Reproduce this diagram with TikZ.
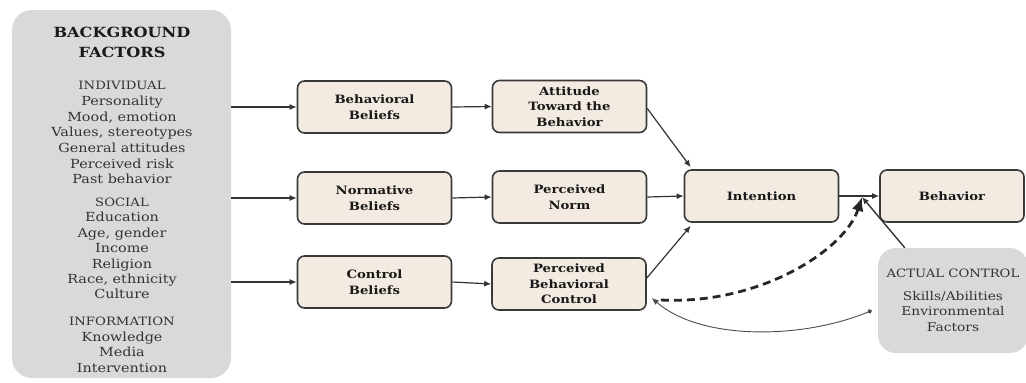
\documentclass[tikz,border=0pt]{standalone}
\usepackage{fontspec}
\setmainfont{DejaVu Serif}[FakeStretch=1.15]
\usetikzlibrary{arrows.meta}
\definecolor{beliefFill}{HTML}{F3EAE1}
\definecolor{panelGray}{HTML}{D9D9D9}
\definecolor{edgeGray}{HTML}{3A3A3A}
\tikzset{
  tpbbox/.style={draw=edgeGray, line width=1.6pt, fill=beliefFill, rounded corners=7pt,
    align=center, font=\fontsize{11.5}{15.5}\selectfont\bfseries, text=black!90,
    minimum width=154pt, minimum height=52pt, inner sep=2pt},
  panel/.style={fill=panelGray, inner sep=0pt},
  flow/.style={-{Latex[length=7pt,width=6pt]}, line width=1.2pt, draw=black!80},
  itemtext/.style={font=\fontsize{12.5}{15.5}\selectfont, text=black!80, inner sep=0pt, anchor=base},
  headtext/.style={font=\fontsize{11.5}{15.5}\selectfont, text=black!80, inner sep=0pt, anchor=base},
}
\begin{document}
\begin{tikzpicture}[x=1pt,y=-1pt]
\useasboundingbox (0,0) rectangle (1026,383);
% left panel
\node[panel, rounded corners=20pt, minimum width=219pt, minimum height=368pt] (bg) at (121.5,194) {};
\node[align=center, inner sep=0pt, font=\fontsize{14}{20}\selectfont\bfseries, text=black!90] (title) at (122,42) {BACKGROUND\\FACTORS};
\node[headtext] (hind) at (122,89) {INDIVIDUAL};
\node[headtext] (hsoc) at (122,206) {SOCIAL};
\node[headtext] (hinf) at (122,325) {INFORMATION};
\foreach \txt/\yy [count=\i] in {Personality/105.5, {Mood, emotion}/121.5, {Values, stereotypes}/136.5,
    General attitudes/152.5, Perceived risk/168, Past behavior/183.5,
    Education/221.5, {Age, gender}/237, Income/252.5, Religion/268, {Race, ethnicity}/283.5, Culture/298.5,
    Knowledge/341.5, Media/356.5, Intervention/372}
  \node[itemtext, name=bgitem\i] at (122,\yy) {\txt};

% belief boxes
\node[tpbbox] (bb) at (374.5,107) {Behavioral\\Beliefs};
\node[tpbbox] (nb) at (374.5,198) {Normative\\Beliefs};
\node[tpbbox] (cb) at (374.5,282) {Control\\Beliefs};
\node[tpbbox] (att) at (569.5,106.5) {Attitude\\Toward the\\Behavior};
\node[tpbbox] (pn) at (569.5,197) {Perceived\\Norm};
\node[tpbbox] (pbc) at (569,284) {Perceived\\Behavioral\\Control};
\node[tpbbox] (int) at (761.5,196) {Intention};
\node[tpbbox, minimum width=144pt] (beh) at (952,196) {Behavior};

% actual control
\node[panel, rounded corners=18pt, minimum width=150pt, minimum height=105pt, align=center,
  font=\fontsize{12}{15.5}\selectfont, text=black!80] (ac) at (953,300.5)
  {{\fontsize{11.5}{15.5}\selectfont ACTUAL CONTROL}\\[7pt]Skills/Abilities\\Environmental\\Factors};
\coordinate (meet) at (862,197);

% arrows
\draw[flow] (bg.east |- bb.west) -- (bb.west);
\draw[flow] (bg.east |- nb.west) -- (nb.west);
\draw[flow] (bg.east |- cb.west) -- (cb.west);
\draw[flow] (bb.east) -- (att.west);
\draw[flow] (nb.east) -- (pn.west);
\draw[flow] (cb.east) -- (pbc.west);
\draw[flow] ([yshift=-2pt]att.east) -- ([xshift=7pt,yshift=2pt]int.north west);
\draw[flow] (pn.east) -- (int.west);
\draw[flow] ([yshift=6pt]pbc.east) -- ([xshift=7pt,yshift=-3pt]int.south west);
\draw[flow] (int.east) -- (beh.west);
\draw[flow, line width=1.4pt] ([xshift=27pt]ac.north west) -- (meet);
\draw[-{Latex[length=14pt,width=12pt]}, line width=2.8pt, dash pattern=on 8pt off 5pt, draw=black!85]
  ([xshift=14pt,yshift=-16pt]pbc.east) .. controls (760,305) and (845,250) .. (meet);
\draw[{Latex[length=7pt,width=6pt]}-{Circle[length=4.5pt]}, line width=0.9pt, draw=black!70]
  ([xshift=5pt,yshift=-14pt]pbc.east) .. controls (700,340) and (800,340) .. ([xshift=-6pt,yshift=-10pt]ac.west);
\end{tikzpicture}
\end{document}
